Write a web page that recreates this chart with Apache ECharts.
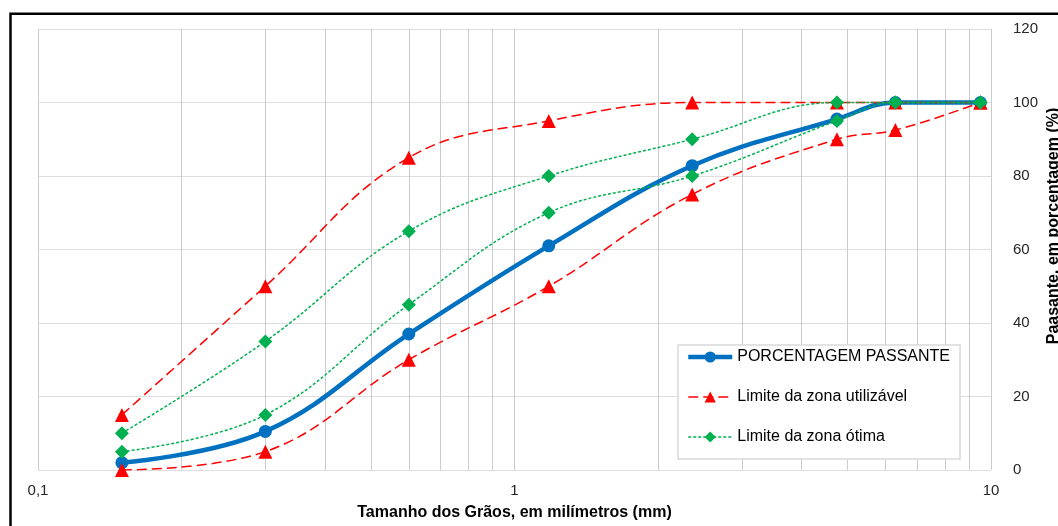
<!DOCTYPE html>
<html>
<head>
<meta charset="utf-8">
<script src="https://cdn.jsdelivr.net/npm/echarts@6/dist/echarts.min.js"></script>
<style>html,body{margin:0;padding:0;background:#fff;}#c{width:1058px;height:526px;}</style>
</head>
<body>
<div id="c"></div>
<script>
// Sieve sizes (mm)
const sieves = [0.15, 0.3, 0.6, 1.18, 2.36, 4.75, 6.3, 9.5];
const passante = [2, 10.5, 37, 61, 82.8, 95.5, 100, 100];
const utilSuperior = [15, 50, 85, 95, 100, 100, 100, 100];
const utilInferior = [0, 5, 30, 50, 75, 90, 92.5, 100];
const otimaSuperior = [10, 35, 65, 80, 90, 100, 100, 100];
const otimaInferior = [5, 15, 45, 70, 80, 95, 100, 100];
const minorGrid = [0.2, 0.3, 0.4, 0.5, 0.6, 0.7, 0.8, 0.9, 2, 3, 4, 5, 6, 7, 8, 9];
const yTicks = [0, 20, 40, 60, 80, 100, 120];

const nameP = 'PORCENTAGEM PASSANTE';
const nameU = 'Limite da zona utilizável';
const nameO = 'Limite da zona ótima';
const font = '"Liberation Sans", Arial, sans-serif';

function pairs(vals) { return sieves.map((s, i) => [s, vals[i]]); }

const redStyle = {
  type: 'line', name: nameU, smooth: 0.4, symbol: 'triangle', symbolSize: 14,
  itemStyle: { color: '#FF0000' },
  lineStyle: { color: '#FF0000', width: 1.5, type: [10, 5] }, z: 3
};
const greenStyle = {
  type: 'line', name: nameO, smooth: 0.4, symbol: 'diamond', symbolSize: 14,
  itemStyle: { color: '#00B050' },
  lineStyle: { color: '#00B050', width: 1.5, type: [3, 2] }, z: 4
};

const chart = echarts.init(document.getElementById('c'));
chart.setOption({
  animation: false,
  textStyle: { fontFamily: font },
  grid: { left: 38, right: 67, top: 29, bottom: 56, outerBoundsMode: 'none', containLabel: false },
  graphic: [
    { type: 'rect', shape: { x: 10.5, y: 13.7, width: 1100, height: 600 },
      style: { fill: 'none', stroke: '#000', lineWidth: 2.5 }, z: 100 },
    { type: 'text', x: 1054, y: 226, rotation: Math.PI / 2,
      style: { text: 'Paasante, em porcentagem (%)', font: 'bold 16px ' + font,
        fill: '#000', textAlign: 'center', textVerticalAlign: 'middle' } }
  ],
  legend: {
    orient: 'vertical', left: 678, top: 345,
    data: [
      { name: nameP, lineStyle: { width: 4.5 } },
      { name: nameU, lineStyle: { width: 1.5 } },
      { name: nameO, lineStyle: { width: 1.5 } }
    ],
    itemWidth: 44, itemHeight: 14, itemGap: 24,
    padding: [4, 10, 14, 8],
    backgroundColor: '#fff', borderColor: '#d9d9d9', borderWidth: 1.5,
    textStyle: { fontSize: 16, color: '#000', fontFamily: font }
  },
  xAxis: {
    type: 'log', logBase: 10, min: 0.1, max: 10,
    name: 'Tamanho dos Grãos, em milímetros (mm)', nameLocation: 'middle', nameGap: 35,
    nameTextStyle: { fontSize: 16, fontWeight: 'bold', color: '#000', fontFamily: font },
    axisLine: { show: false }, axisTick: { show: false },
    axisLabel: { fontSize: 15, color: '#262626', margin: 13,
      formatter: v => String(v).replace('.', ',') },
    splitLine: { show: true, lineStyle: { color: '#cccccc', width: 1 } },
    minorTick: { show: false }, minorSplitLine: { show: false }
  },
  yAxis: {
    type: 'value', position: 'right', min: yTicks[0], max: yTicks[yTicks.length - 1], interval: 20,
    axisLine: { show: false }, axisTick: { show: false },
    axisLabel: { fontSize: 15, color: '#262626', margin: 22, align: 'left' },
    splitLine: { show: true, lineStyle: { color: '#dedede', width: 1.2 } }
  },
  series: [
    {
      type: 'line', name: nameP, data: pairs(passante), smooth: 0.4,
      symbol: 'circle', symbolSize: 13,
      itemStyle: { color: '#0070C0' },
      lineStyle: { color: '#0070C0', width: 4.5 }, z: 2,
      markLine: {
        silent: true, symbol: 'none', z: 1, animation: false,
        label: { show: false },
        lineStyle: { color: '#cccccc', width: 1, type: 'solid' },
        emphasis: { disabled: true },
        data: minorGrid.map(v => ({ xAxis: v }))
      }
    },
    Object.assign({}, redStyle, { data: pairs(utilSuperior) }),
    Object.assign({}, redStyle, { data: pairs(utilInferior) }),
    Object.assign({}, greenStyle, { data: pairs(otimaSuperior) }),
    Object.assign({}, greenStyle, { data: pairs(otimaInferior) })
  ]
});
</script>
</body>
</html>
